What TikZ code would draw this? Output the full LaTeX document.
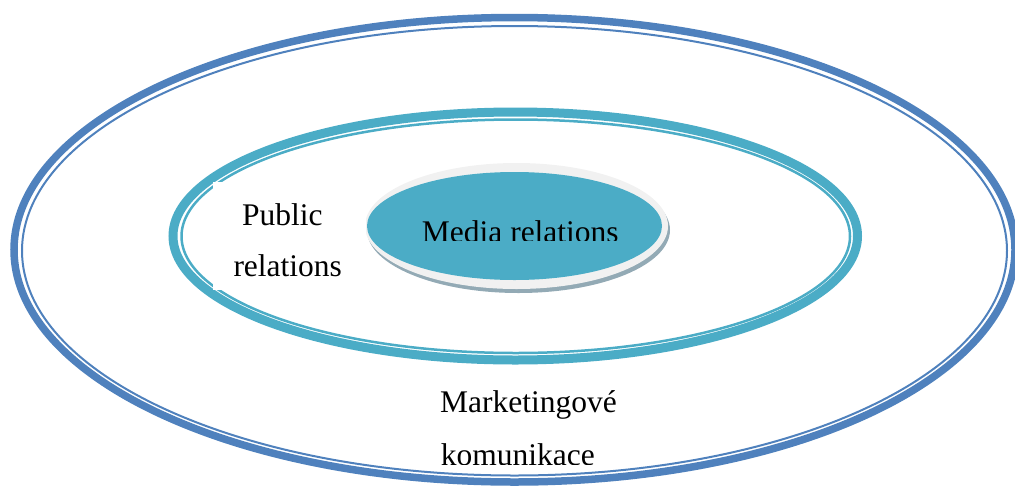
\documentclass[tikz,border=0pt]{standalone}
\usepackage{fontspec}
\setmainfont{Liberation Serif}
\definecolor{outerBlue}{HTML}{4F81BD}
\definecolor{ringAqua}{HTML}{4BACC6}
\definecolor{discRim}{HTML}{F1F1F1}
\definecolor{discShadow}{HTML}{93AAB5}
\begin{document}
\begin{tikzpicture}[x=1pt,y=-1pt,
  outerline/.style={draw=outerBlue},
  midline/.style={draw=ringAqua},
  lbl/.style={inner sep=0pt, anchor=base west, font=\fontsize{31.5}{38}\selectfont}]
\useasboundingbox (0,0) rectangle (1015,488);

% outer ring: thick line with a thin companion inside
\draw[outerline, line width=7.5pt] (514.5,249.75) ellipse [x radius=500.5pt, y radius=232.25pt];
\draw[outerline, line width=2pt] (514.5,250.75) ellipse [x radius=492.5pt, y radius=224.75pt];

% middle ring
\draw[midline, line width=9pt] (515.25,236) ellipse [x radius=342.25pt, y radius=124pt];
\draw[midline, line width=2.5pt] (515.75,236.25) ellipse [x radius=334.25pt, y radius=116.75pt];

% core disc: shadow, light rim, face
\fill[discShadow] (518.5,230) ellipse [x radius=151.5pt, y radius=63pt];
\fill[discRim] (516.5,226) ellipse [x radius=151.5pt, y radius=63pt];
\fill[ringAqua] (514.5,226) ellipse [x radius=147.5pt, y radius=54pt];

% text area of the middle ring label
\fill[white] (213,182) rectangle (366,290);

\node[lbl] (pub1) at (242,225) {Public};
\node[lbl] (pub2) at (233.3,276) {relations};

\begin{scope}
  \clip (400,200) rectangle (650,240.5);
  \node[lbl] (media) at (421.7,242.5) {Media relations};
\end{scope}

\node[lbl] (mk1) at (440,412.7) {Marketingové};
\begin{scope}
  \clip (420,420) rectangle (650,464.5);
  \node[lbl] (mk2) at (440.7,465.5) {komunikace};
\end{scope}
\end{tikzpicture}
\end{document}
